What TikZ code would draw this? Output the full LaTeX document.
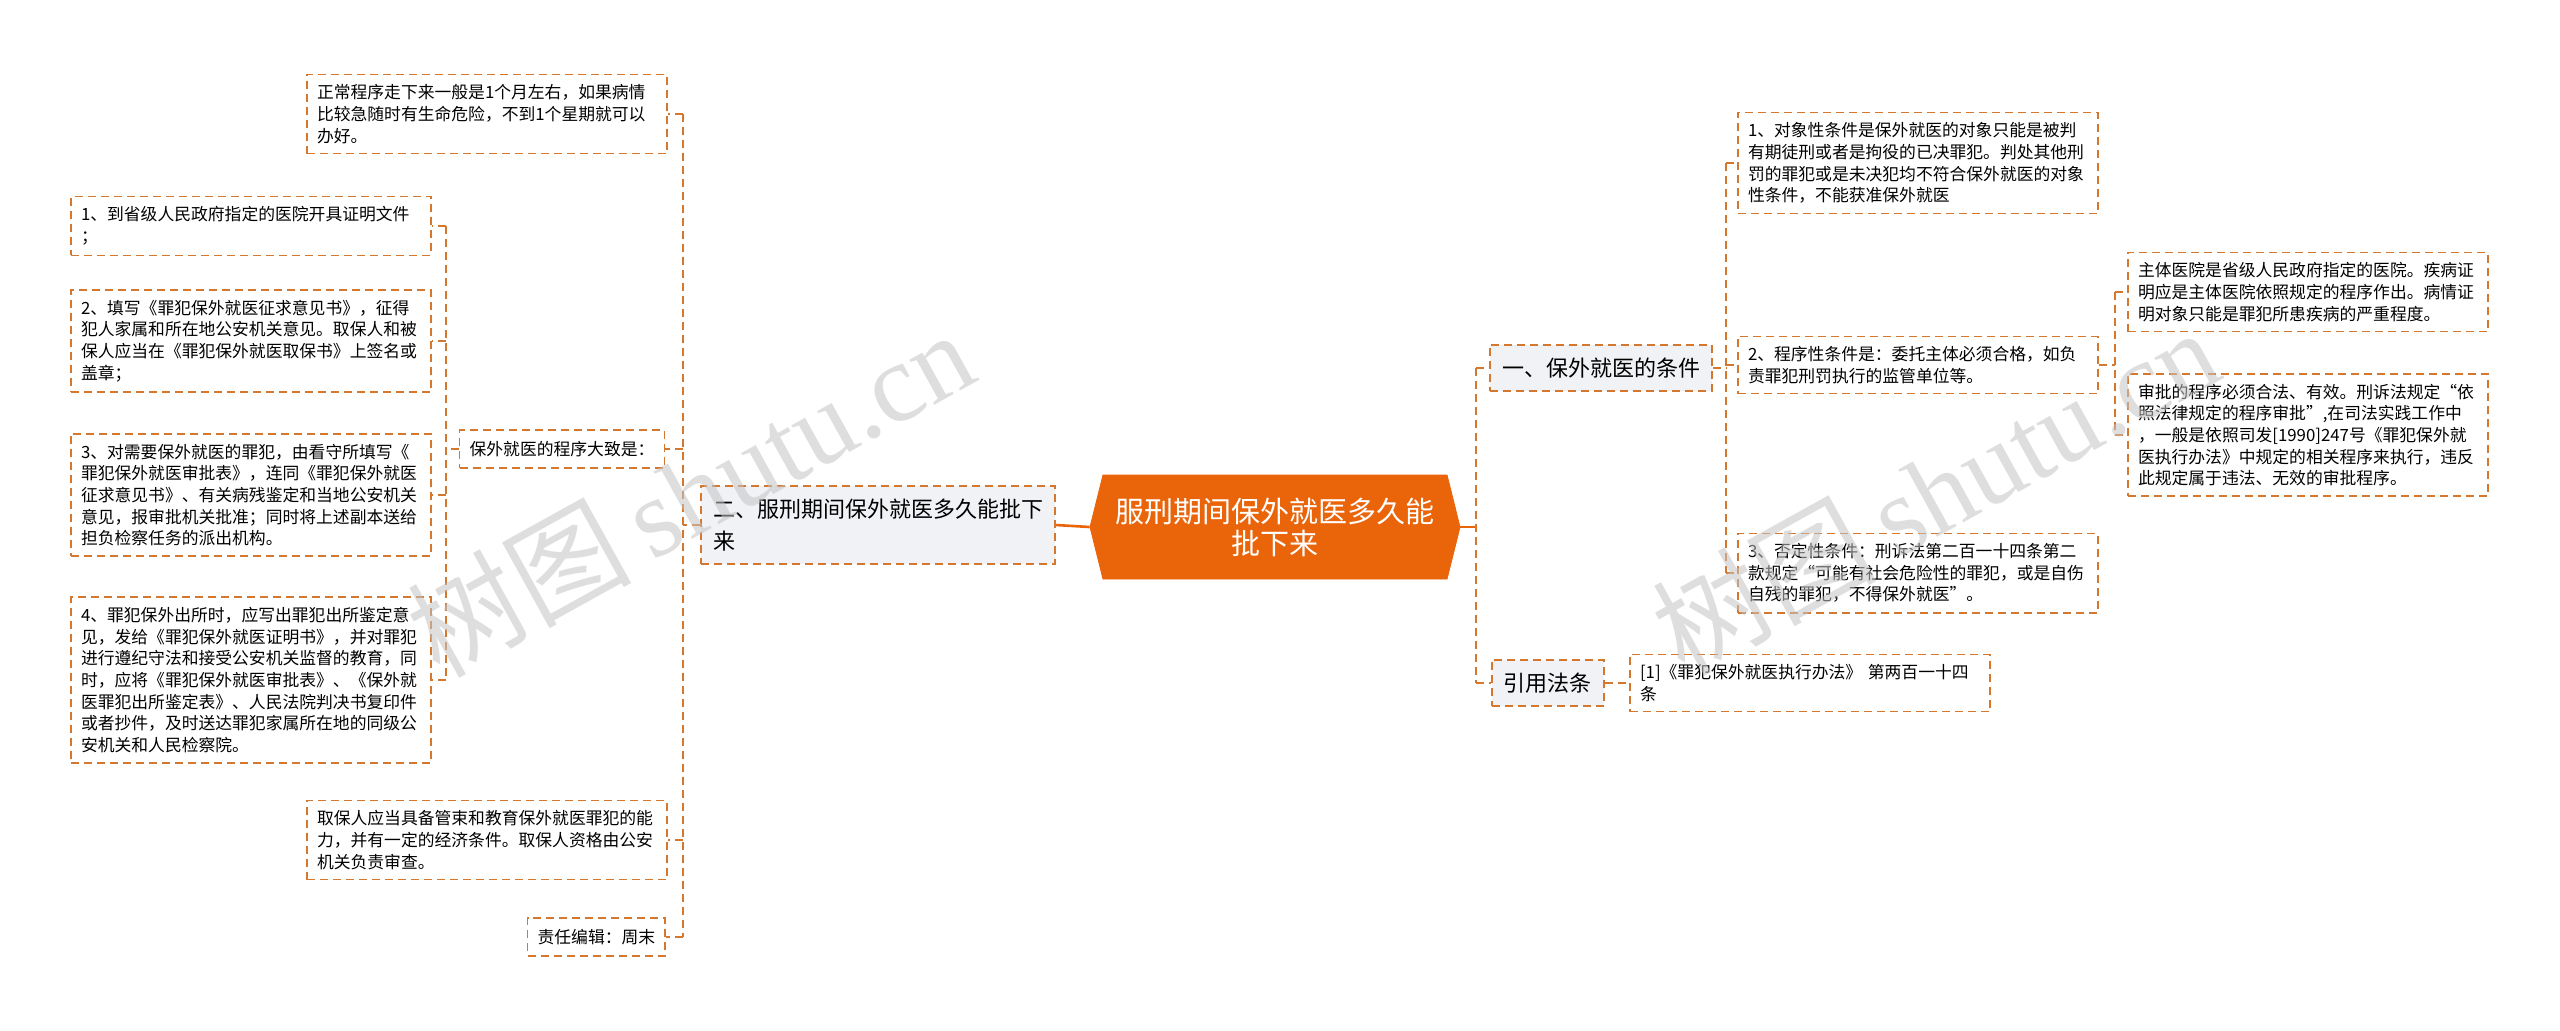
\documentclass[tikz,border=0pt]{standalone}
\usepackage{fontspec}
\setmainfont{Noto Sans CJK SC}
\newfontfamily\markfont{Liberation Serif}
\usepackage{xcolor}
\definecolor{RootOrange}{HTML}{EA640A}
\definecolor{LineOrange}{HTML}{D4772F}
\definecolor{TopicGray}{HTML}{F0F2F5}
\definecolor{MarkGray}{HTML}{C4C4C4}
\usepackage{tikz}
\usetikzlibrary{shapes.symbols}
\tikzset{
  % Box styles
  rootbox/.style={signal, signal to=west and east, signal pointer angle=152, fill=RootOrange, draw=RootOrange, text=white, minimum width=185pt, minimum height=52pt, font=\fontsize{14.5}{16}\selectfont, align=center},
  basebox/.style={rectangle, draw=LineOrange, line width=0.8pt, dash pattern=on 4pt off 2.5pt, align=left},
  topicbox/.style={basebox, fill=TopicGray, font=\fontsize{11}{16}\selectfont, inner xsep=6pt, inner ysep=6.5pt},
  leafbox/.style={basebox, fill=white, font=\fontsize{8.4}{10.85}\selectfont, text width=170pt, inner xsep=5pt, inner ysep=5pt},
  notebox/.style={basebox, fill=white, font=\fontsize{8.4}{10.85}\selectfont, inner xsep=5pt, inner ysep=5.5pt},
  % Line styles
  link/.style={draw=LineOrange, line width=0.8pt, dash pattern=on 4pt off 2.5pt},
  rootlink/.style={draw=RootOrange, line width=1.3pt},
  % Watermark
  watermark/.style={text=MarkGray, text opacity=0.55, font=\fontsize{56}{56}\selectfont, rotate=29}
}

\begin{document}
\begin{tikzpicture}[x=0.5pt, y=-0.5pt]
  \path[fill=white] (0,0) rectangle (2560,1030);
  \useasboundingbox (0,0) rectangle (2560,1030);

  % Central topic
  \node[rootbox] (root) at (1275,527) {服刑期间保外就医多久能\\批下来};

  % Left branch
  \node[topicbox] (howlong) at (878,525) {二、服刑期间保外就医多久能批下\\来};
  \node[leafbox] (normal) at (487,114) {正常程序走下来一般是1个月左右，如果病情\\比较急随时有生命危险，不到1个星期就可以\\办好。};
  \node[notebox] (steps) at (562,449) {保外就医的程序大致是：};
  \node[leafbox] (bail) at (487,840) {取保人应当具备管束和教育保外就医罪犯的能\\力，并有一定的经济条件。取保人资格由公安\\机关负责审查。};
  \node[notebox, anchor=east] (editor) at (666,937) {责任编辑：周末};

  \node[leafbox] (stepa) at (251,226) {1、到省级人民政府指定的医院开具证明文件\\；};
  \node[leafbox] (stepb) at (251,341) {2、填写《罪犯保外就医征求意见书》，征得\\犯人家属和所在地公安机关意见。取保人和被\\保人应当在《罪犯保外就医取保书》上签名或\\盖章；};
  \node[leafbox] (stepc) at (251,495) {3、对需要保外就医的罪犯，由看守所填写《\\罪犯保外就医审批表》，连同《罪犯保外就医\\征求意见书》、有关病残鉴定和当地公安机关\\意见，报审批机关批准；同时将上述副本送给\\担负检察任务的派出机构。};
  \node[leafbox] (stepd) at (251,680) {4、罪犯保外出所时，应写出罪犯出所鉴定意\\见，发给《罪犯保外就医证明书》，并对罪犯\\进行遵纪守法和接受公安机关监督的教育，同\\时，应将《罪犯保外就医审批表》、《保外就\\医罪犯出所鉴定表》、人民法院判决书复印件\\或者抄件，及时送达罪犯家属所在地的同级公\\安机关和人民检察院。};

  % Right branch
  \node[topicbox] (cond) at (1601,368) {一、保外就医的条件};
  \node[topicbox, anchor=west] (cite) at (1491,683) {引用法条};

  \node[leafbox] (object) at (1918,163) {1、对象性条件是保外就医的对象只能是被判\\有期徒刑或者是拘役的已决罪犯。判处其他刑\\罚的罪犯或是未决犯均不符合保外就医的对象\\性条件，不能获准保外就医};
  \node[leafbox] (proced) at (1918,365) {2、程序性条件是：委托主体必须合格，如负\\责罪犯刑罚执行的监管单位等。};
  \node[leafbox] (negative) at (1918,573) {3、否定性条件：刑诉法第二百一十四条第二\\款规定“可能有社会危险性的罪犯，或是自伤\\自残的罪犯，不得保外就医”。};
  \node[leafbox] (hospital) at (2308,292) {主体医院是省级人民政府指定的医院。疾病证\\明应是主体医院依照规定的程序作出。病情证\\明对象只能是罪犯所患疾病的严重程度。};
  \node[leafbox] (approve) at (2308,435) {审批的程序必须合法、有效。刑诉法规定“依\\照法律规定的程序审批”,在司法实践工作中\\，一般是依照司发[1990]247号《罪犯保外就\\医执行办法》中规定的相关程序来执行，违反\\此规定属于违法、无效的审批程序。};
  \node[leafbox] (lawref) at (1810,683) {[1]《罪犯保外就医执行办法》~第两百一十四\\条};

  % Junctions
  \coordinate (ljoin) at (683,525);
  \coordinate (sjoin) at (446,449);
  \coordinate (rjoin) at (1476,527);
  \coordinate (cjoin) at (1726,368);
  \coordinate (pjoin) at (2115,365);

  % Connectors, left
  \draw[rootlink] (root.west) -- (howlong.east);
  \draw[link] (howlong.west) -- (ljoin);
  \draw[link] (ljoin |- normal.east) -- (ljoin |- editor.east);
  \foreach \n in {normal, steps, bail, editor}
    \draw[link] (ljoin |- \n.east) -- (\n.east);
  \draw[link] (steps.west) -- (sjoin);
  \draw[link] (sjoin |- stepa.east) -- (sjoin |- stepd.east);
  \foreach \n in {stepa, stepb, stepc, stepd}
    \draw[link] (sjoin |- \n.east) -- (\n.east);

  % Connectors, right
  \draw[rootlink] (root.east) -- (rjoin);
  \draw[link] (rjoin |- cond.west) -- (rjoin |- cite.west);
  \foreach \n in {cond, cite}
    \draw[link] (rjoin |- \n.west) -- (\n.west);
  \draw[link] (cond.east) -- (cjoin);
  \draw[link] (cjoin |- object.west) -- (cjoin |- negative.west);
  \foreach \n in {object, proced, negative}
    \draw[link] (cjoin |- \n.west) -- (\n.west);
  \draw[link] (proced.east) -- (pjoin);
  \draw[link] (pjoin |- hospital.west) -- (pjoin |- approve.west);
  \foreach \n in {hospital, approve}
    \draw[link] (pjoin |- \n.west) -- (\n.west);
  \draw[link] (cite.east) -- (lawref.west);

  % Watermarks
  \node[watermark] (markleft) at (690,492) {树图\,{\markfont shutu.cn}};
  \node[watermark] (markright) at (1935,490) {树图\,{\markfont shutu.cn}};
\end{tikzpicture}
\end{document}
